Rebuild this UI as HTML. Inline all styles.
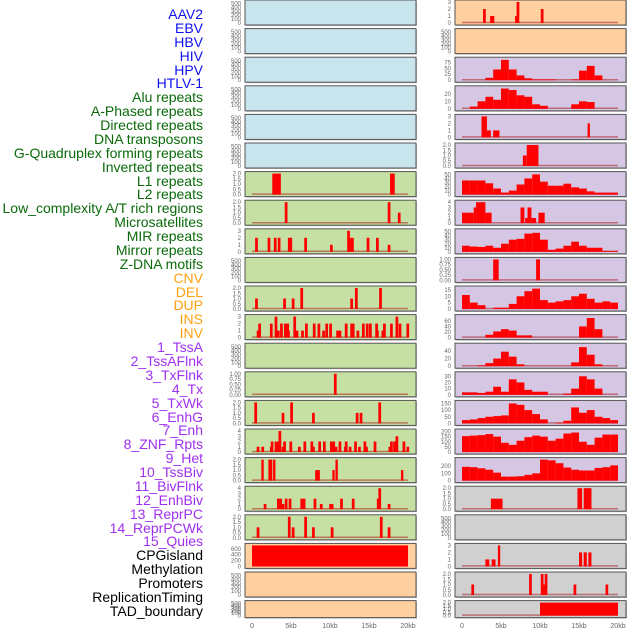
<!DOCTYPE html>
<html><head><meta charset="utf-8"><style>
body{margin:0;width:630px;height:630px;background:#fff;overflow:hidden;font-family:"Liberation Sans",sans-serif}
#labels div{position:absolute;right:427px;font-size:14px;line-height:14px;white-space:nowrap}
</style></head><body>
<div id="labels"></div>
<svg id="chart" width="630" height="630" style="position:absolute;left:0;top:0"></svg>
<script>
const labelNames=["AAV2","EBV","HBV","HIV","HPV","HTLV-1","Alu repeats","A-Phased repeats","Directed repeats","DNA transposons","G-Quadruplex forming repeats","Inverted repeats","L1 repeats","L2 repeats","Low_complexity A/T rich regions","Microsatellites","MIR repeats","Mirror repeats","Z-DNA motifs","CNV","DEL","DUP","INS","INV","1_TssA","2_TssAFlnk","3_TxFlnk","4_Tx","5_TxWk","6_EnhG","7_Enh","8_ZNF_Rpts","9_Het","10_TssBiv","11_BivFlnk","12_EnhBiv","13_ReprPC","14_ReprPCWk","15_Quies","CPGisland","Methylation","Promoters","ReplicationTiming","TAD_boundary"];
const labelGroups=[6,13,5,15,5];
const groupColors=["#1010f0","#0a6a0a","#ffa010","#a030f0","#000"];
const xTicks=[0,5,10,15,20];
const xTickLabels=["0","5kb","10kb","15kb","20kb"];
// sparse bars: positions (kb) and values
const l7Pos=[4.2,17.4,18.7], l7Val=[2,2,1];
const l8Pos=[0.4,2.0,2.8,3.3,4.6,4.8,6.7,10,12.2,12.4,12.7,14.7,15.9,17.4], l8Val=[2,2,2,2,2,2,2,1,3,2,2,2,2,1];
const l10Pos=[0.4,4,5.1,6.2,12.6,13.2,16.3], l10Val=[1,1,1,2,1,2,2];
const l11Pos=[0.8,2.3,2.9,3.6,4.1,4.4,5.3,6.8,7.8,8.4,9.4,9.9,11.9,12.6,12.8,14.1,14.6,15,15.8,16.8,17.7,18.4,18.8,19.8,0.6,3.2,4.5,5.6,6.3,9,10.8,11.1,13.4,15.9,16.6];
const l11Val=[2,2,3,2,2,2,3,2,2,2,2,2,2,2,2,2,2,2,2,2,2,3,2,2,1,1,1,1,1,1,1,1,1,1,1];
const l13Pos=[10.5], l13Val=[1];
const l14Pos=[0.3,3.8,4.9,7.7,13.3,13.8,16.2], l14Val=[2,1,2,1,1,1,2];
const l15Pos=[0.6,1.2,2.3,2.4,2.9,3.2,3.4,3.8,4.0,4.8,5.9,6.6,7.5,7.7,8.5,9.1,10,10.3,10.6,11.1,11.8,11.9,12.4,13.1,13.6,14.3,14.5,15.6,17.5,17.7,18.1,18.4,19.3,19.8];
const l15Val=[1,1,1,2,2,2,4,1,2,2,1,2,2,1,2,2,2,2,1,2,1,2,1,2,1,2,1,2,1,2,2,3,2,1];
const l17Pos=[1.5,3.2,3.5,3.8,4.2,4.7,6.2,6.5,7.9,8.7,9.9,10.1,11.3,12.8,16,16.2,17.4], l17Val=[1,2,2,1,2,2,2,2,2,1,1,1,2,2,2,4,1];
const l18Pos=[0.6,4.6,5.1,6.7,7.7,10.1,16.4,17.4], l18Val=[1,2,1,2,1,1,2,1];
const r0Pos=[2.7,3.6,3.8,6.8,7.0,10.1], r0Val=[2,1,1,1,3,2];
const r20Pos=[1.2,8.6,10.1,10.3,10.6,14.3,18.4], r20Val=[1,2,2,1,2,1,1];
// blocks: start, end (kb), value
const l6Start=[2.6,17.7], l6End=[3.7,18.3], l6Val=[2,2];
const l16Start=[1.2,2.1,2.7,8.1,10.3,10.7,19.1], l16End=[1.5,2.6,3.0,8.7,10.6,11.0,19.4], l16Val=[2,2,2,1,1,2,1];
const l19Start=[0], l19End=[20], l19Val=[720];
const r4Start=[2.5,3.2,4.0,16.1], r4End=[3.2,3.7,4.8,16.4], r4Val=[3,1,1,2];
const r5Start=[7.8,8.3], r5End=[8.3,9.8], r5Val=[1,2];
const r7Start=[0,1.5,1.8,3.0,7.5,8.1,8.4,8.9,9.8], r7End=[1.5,1.8,3.0,3.8,8.0,8.4,8.9,9.5,10.6], r7Val=[2,3,4,2,3,1,3,1,2];
const r9Start=[4.0,9.5], r9End=[4.7,10.0], r9Val=[1,1];
const r17Start=[3.7,14.8,15.6], r17End=[5.2,15.4,16.6], r17Val=[1,2,2];
const r19Start=[3.0,3.8,4.6,15.0,15.6,16.2], r19End=[3.5,4.3,4.9,15.4,16.0,16.6], r19Val=[1,1,3,2,2,2];
const r21Start=[10], r21End=[20], r21Val=[2];
// profiles: 1kb bins 0..20kb
const r2Prof=[0,0,0,10,45,85,45,20,8,3,3,3,0,0,3,40,60,20,0,0];
const r3Prof=[0,3,10,16,12,27,25,18,16,6,4,0,0,0,6,10,9,0,0,0];
const r6Prof=[35,35,35,28,15,5,10,25,40,50,32,22,22,27,18,15,8,5,5,5];
const r8Prof=[15,13,12,15,10,20,30,32,45,47,30,5,8,15,25,15,10,10,2,2];
const r10Prof=[11,5,3,0,1,1,4,10,14,16,7,5,6,7,10,12,8,5,6,5];
const r11Prof=[0,0,0,10,22,30,25,8,8,0,0,0,0,0,0,40,70,30,0,0];
const r12Prof=[0,0,2,8,20,38,25,5,0,0,0,0,0,0,10,50,30,5,0,0];
const r13Prof=[4,4,3,5,13,5,25,20,8,5,5,0,0,2,10,30,25,10,0,0];
const r14Prof=[25,30,40,50,55,60,150,140,100,70,30,0,5,20,120,80,100,50,40,25];
const r15Prof=[155,160,165,175,150,90,70,110,145,160,150,110,130,180,190,100,70,140,170,170];
const r16Prof=[190,185,170,150,110,55,55,60,80,100,290,280,240,180,150,140,140,175,185,210];
// tick sets
const ticksEmpty=[0,100,200,300,400,500];
const ticks2=[0,0.5,1,1.5,2];
const ticks3=[0,1,2,3];
const ticks4=[0,1,2,3,4];
const ticks1=[0,0.25,0.5,0.75,1];

const BG={b:"#c8e4ec",g:"#c6e0a3",o:"#fecf9f",p:"#d5c6e3",y:"#d0d0d0"};
const left=[
 {bg:"b",ymax:540,ticks:ticksEmpty,d:0},{bg:"b",ymax:540,ticks:ticksEmpty,d:0},{bg:"b",ymax:540,ticks:ticksEmpty,d:0},
 {bg:"b",ymax:540,ticks:ticksEmpty,d:0},{bg:"b",ymax:540,ticks:ticksEmpty,d:0},{bg:"b",ymax:540,ticks:ticksEmpty,d:0},
 {bg:"g",ymax:2,ticks:ticks2,d:1,bs:l6Start,be:l6End,bv:l6Val},
 {bg:"g",ymax:2,ticks:ticks2,d:1,sp:l7Pos,sv:l7Val},
 {bg:"g",ymax:3,ticks:ticks3,d:0,sp:l8Pos,sv:l8Val},
 {bg:"g",ymax:540,ticks:ticksEmpty,d:0},
 {bg:"g",ymax:2,ticks:ticks2,d:1,sp:l10Pos,sv:l10Val},
 {bg:"g",ymax:3,ticks:ticks3,d:0,sp:l11Pos,sv:l11Val},
 {bg:"g",ymax:540,ticks:ticksEmpty,d:0},
 {bg:"g",ymax:1,ticks:ticks1,d:2,sp:l13Pos,sv:l13Val},
 {bg:"g",ymax:2,ticks:ticks2,d:1,sp:l14Pos,sv:l14Val},
 {bg:"g",ymax:4,ticks:ticks4,d:0,sp:l15Pos,sv:l15Val},
 {bg:"g",ymax:2,ticks:ticks2,d:1,bs:l16Start,be:l16End,bv:l16Val},
 {bg:"g",ymax:4,ticks:ticks4,d:0,sp:l17Pos,sv:l17Val},
 {bg:"g",ymax:2,ticks:ticks2,d:1,sp:l18Pos,sv:l18Val},
 {bg:"o",ymax:720,ticks:[0,200,400,600],d:0,bs:l19Start,be:l19End,bv:l19Val},
 {bg:"o",ymax:540,ticks:ticksEmpty,d:0},{bg:"o",ymax:540,ticks:ticksEmpty,d:0}];
const right=[
 {bg:"o",ymax:3,ticks:ticks3,d:0,sp:r0Pos,sv:r0Val},
 {bg:"o",ymax:540,ticks:ticksEmpty,d:0},
 {bg:"p",ymax:88,ticks:[0,25,50,75],d:0,pr:r2Prof},
 {bg:"p",ymax:28,ticks:[0,10,20],d:0,pr:r3Prof},
 {bg:"p",ymax:3,ticks:ticks3,d:0,bs:r4Start,be:r4End,bv:r4Val},
 {bg:"p",ymax:2,ticks:ticks2,d:1,bs:r5Start,be:r5End,bv:r5Val},
 {bg:"p",ymax:52,ticks:[0,10,20,30,40,50],d:0,pr:r6Prof},
 {bg:"p",ymax:4,ticks:ticks4,d:0,bs:r7Start,be:r7End,bv:r7Val},
 {bg:"p",ymax:52,ticks:[0,10,20,30,40,50],d:0,pr:r8Prof},
 {bg:"p",ymax:1,ticks:ticks1,d:2,bs:r9Start,be:r9End,bv:r9Val},
 {bg:"p",ymax:16.5,ticks:[0,5,10,15],d:0,pr:r10Prof},
 {bg:"p",ymax:75,ticks:[0,20,40,60],d:0,pr:r11Prof},
 {bg:"p",ymax:55,ticks:[0,20,40],d:0,pr:r12Prof},
 {bg:"p",ymax:34,ticks:[0,10,20,30],d:0,pr:r13Prof},
 {bg:"p",ymax:158,ticks:[0,50,100,150],d:0,pr:r14Prof},
 {bg:"p",ymax:205,ticks:[0,50,100,150,200],d:0,pr:r15Prof},
 {bg:"p",ymax:290,ticks:[0,100,200],d:0,pr:r16Prof},
 {bg:"y",ymax:2,ticks:ticks2,d:1,bs:r17Start,be:r17End,bv:r17Val},
 {bg:"y",ymax:540,ticks:ticksEmpty,d:0},
 {bg:"y",ymax:3,ticks:ticks3,d:0,bs:r19Start,be:r19End,bv:r19Val},
 {bg:"y",ymax:2,ticks:ticks2,d:1,sp:r20Pos,sv:r20Val},
 {bg:"y",ymax:2,ticks:ticks2,d:1,bs:r21Start,be:r21End,bv:r21Val}];

// labels
const lab=document.getElementById('labels');
let gi=0,gc=0;
labelNames.forEach((n,i)=>{
  while(gc>=labelGroups[gi]){gi++;gc=0;} gc++;
  const d=document.createElement('div');
  
  
  d.textContent=n;
  d.style.top=(7+i*13.88)+'px';
  d.style.color=groupColors[gi];
  lab.appendChild(d);
});

const svg=document.getElementById('chart');
const NS="http://www.w3.org/2000/svg";
function el(t,a,p){const e=document.createElementNS(NS,t);for(const k in a)e.setAttribute(k,a[k]);(p||svg).appendChild(e);return e;}
const KB=7.8;
function drawCol(panels,colX,side){
  panels.forEach((p,i)=>{
    const top=i*28.6, h=(i===21?17:25);
    const g=el('g',{});
    
    
    const x0=colX+7;
    const yb=top+h-2, yt=top+2;
    const sx=v=>x0+v*KB;
    const sy=v=>yb-(v/p.ymax)*(yb-yt);
    el('rect',{x:colX+1,y:top+1,width:171,height:h,fill:"#bbb"},g);
    el('rect',{x:colX,y:top,width:171,height:h,fill:BG[p.bg],stroke:"#555","stroke-width":1},g);
    // ticks
    p.ticks.forEach(t=>{
      const tx=el('text',{x:colX-4,y:sy(t)+2,"font-size":6,fill:"#666","text-anchor":"end"},g);
      
      
      tx.textContent=t.toFixed(p.d);
    });
    const hasData=p.sp||p.bs||p.pr;
    if(hasData){
      el('line',{x1:sx(0),x2:sx(20),y1:yb-0.5,y2:yb-0.5,stroke:"#b03030","stroke-width":1.5,opacity:0.6},g);
    }
    const bar=(a,b,v)=>{const r=el('rect',{x:sx(a),y:sy(Math.min(v,p.ymax*1.04)),width:Math.max(1,(b-a)*KB),height:yb-sy(Math.min(v,p.ymax*1.04)),fill:"#ff0000"},g);
      
      };
    if(p.sp)p.sp.forEach((x,k)=>bar(x,x+0.35,p.sv[k]));
    if(p.bs)p.bs.forEach((x,k)=>bar(x,p.be[k],p.bv[k]));
    if(p.pr)p.pr.forEach((v,k)=>{if(v>0)bar(k,k+1,v);});
  });
  // x axis labels
  xTicks.forEach((t,k)=>{
    const tx=el('text',{x:colX+7+t*KB,y:628,"font-size":7,fill:"#666","text-anchor":"middle"});
    
    
    tx.textContent=xTickLabels[k];
  });
}
drawCol(left,245,'left');
drawCol(right,455,'right');
</script>
</body></html>
